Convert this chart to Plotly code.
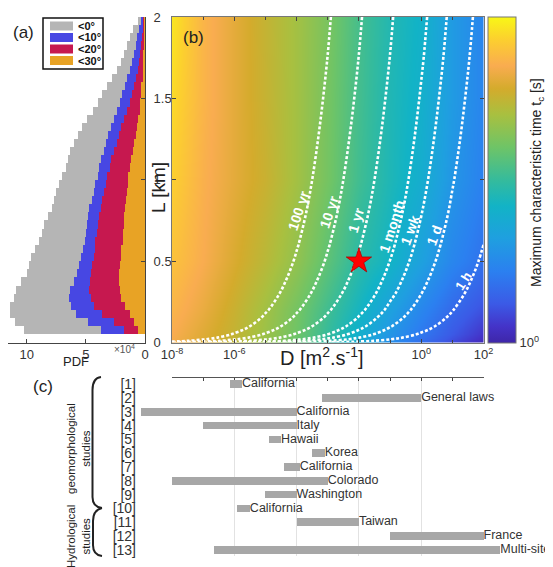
import plotly.graph_objects as go

# The page body adds an 8 px margin, so the figure is 8 px smaller than the window
# and every position below is given in window pixels.
OFF = 8
WIN_W, WIN_H = 553, 567
W, H = WIN_W - OFF, WIN_H - OFF
FONT = "Arial, Liberation Sans, sans-serif"


def X(p):
    return (p - OFF) / W


def Y(p):
    return 1 - (p - OFF) / H


# ---------------- Panel (a): PDF of hillslope length by slope class ----------------
L_bin_km = [0.025, 0.075, 0.125, 0.175, 0.225, 0.275, 0.325, 0.375, 0.425, 0.475,
            0.525, 0.575, 0.625, 0.675, 0.725, 0.775, 0.825, 0.875, 0.925, 0.975,
            1.025, 1.075, 1.125, 1.175, 1.225, 1.275, 1.325, 1.375, 1.425, 1.475,
            1.525, 1.575, 1.625, 1.675, 1.725, 1.775, 1.825, 1.875, 1.925, 1.975]
pdf_lt0 = [0, 10.2, 11.0, 11.4, 11.4, 11.1, 10.9, 10.5, 10.0, 9.8,
           9.6, 9.3, 9.0, 8.7, 8.5, 8.2, 7.9, 7.7, 7.5, 7.3,
           7.0, 6.7, 6.5, 6.3, 6.0, 5.7, 5.3, 4.9, 4.4, 4.0,
           3.6, 3.2, 2.75, 2.4, 2.0, 1.75, 1.5, 1.3, 1.0, 0.6]
pdf_lt10 = [0, 3.75, 4.8, 5.8, 6.25, 6.4, 6.3, 6.0, 5.75, 5.6,
            5.4, 5.25, 5.1, 5.0, 4.9, 4.8, 4.7, 4.5, 4.35, 4.2,
            4.0, 3.85, 3.7, 3.5, 3.3, 3.1, 2.85, 2.6, 2.4, 2.15,
            1.95, 1.7, 1.5, 1.3, 1.1, 0.95, 0.8, 0.65, 0.5, 0.3]
pdf_lt20 = [0, 1.8, 2.6, 3.6, 4.3, 4.6, 4.7, 4.65, 4.55, 4.45,
            4.3, 4.25, 4.2, 4.05, 3.95, 3.85, 3.75, 3.6, 3.45, 3.3,
            3.2, 3.0, 2.85, 2.6, 2.4, 2.2, 2.0, 1.75, 1.5, 1.3,
            1.1, 0.95, 0.75, 0.6, 0.5, 0.4, 0.3, 0.25, 0.15, 0.1]
pdf_lt30 = [0, 0.6, 0.9, 1.3, 1.7, 2.0, 2.1, 2.2, 2.2, 2.1,
            2.0, 2.0, 1.9, 1.85, 1.8, 1.75, 1.7, 1.6, 1.5, 1.45,
            1.4, 1.3, 1.2, 1.05, 0.9, 0.8, 0.7, 0.6, 0.45, 0.4,
            0.35, 0.3, 0.2, 0.15, 0.12, 0.1, 0.08, 0.05, 0.03, 0.02]
slope_names = ["<0°", "<10°", "<20°", "<30°"]
slope_colors = ["#b5b5b5", "#4747e3", "#c6184f", "#e8a325"]
pdf_series = [pdf_lt0, pdf_lt10, pdf_lt20, pdf_lt30]

# ---------------- Panel (b) ----------------
D_exp = [-8, -7, -6, -5, -4, -3, -2, -1, 0, 1, 2]

# colour field (log10 t_c as shown by the colours), rows = L
L_colour_km = [0.0, 0.05, 0.2, 0.5, 1.0, 1.5, 2.0]
log_tc_colour = [
    [12.6, 11.85, 11.1, 10.05, 8.7, 7.2, 5.55, 3.9, 2.55, 1.35, 0.3],
    [12.75, 12.0, 11.25, 10.2, 9.0, 7.5, 6.0, 4.35, 3.0, 1.8, 0.75],
    [13.05, 12.3, 11.4, 10.35, 9.15, 7.8, 6.45, 4.95, 3.6, 2.4, 1.5],
    [13.5, 12.75, 11.85, 10.95, 9.9, 8.55, 7.2, 6.3, 4.95, 3.6, 2.7],
    [13.95, 12.9, 12.15, 11.4, 10.35, 9.15, 7.8, 6.75, 5.85, 4.35, 3.3],
    [14.25, 13.05, 12.15, 11.3, 10.35, 9.2, 7.9, 6.8, 6.05, 4.6, 3.5],
    [14.55, 13.05, 12.15, 11.25, 10.35, 9.3, 7.95, 6.9, 6.2, 4.6, 3.5],
]

# contour field t_c = L^2/D : log10 t_c at D = 1 m2/s for each L row
L_grid_km = [0.002, 0.005, 0.01, 0.02, 0.03, 0.05, 0.075, 0.1, 0.15, 0.2,
             0.3, 0.4, 0.5, 0.6, 0.8, 1.0, 1.25, 1.5, 1.75, 2.0]
log_tc_at_D1 = [0.60, 1.40, 2.00, 2.60, 2.95, 3.40, 3.75, 4.00, 4.35, 4.60,
                4.95, 5.20, 5.40, 5.56, 5.81, 6.00, 6.19, 6.35, 6.49, 6.60]
Z_tc = [[r - d for d in D_exp] for r in log_tc_at_D1]

contour_names = ["100 yr", "10 yr", "1 yr", "1 month", "1 wk", "1 d", "1 h"]
contour_log_tc = [9.50, 8.50, 7.50, 6.41, 5.78, 4.94, 3.56]
label_logD = [-3.95, -2.95, -2.08, -0.95, -0.35, 0.42, 1.37]
label_L = [0.81, 0.80, 0.75, 0.71, 0.69, 0.66, 0.38]
label_angle = [-72, -72, -74, -72, -70, -70, -58]
label_size = [14, 14, 14, 14, 14, 14, 13]

star_logD = [-2.0]
star_L = [0.5]

cscale = [
    [0.00, "#3e26a8"], [0.05, "#4433c8"], [0.12, "#3b5ae6"], [0.22, "#2b80f0"],
    [0.32, "#1f9fe0"], [0.42, "#12b3c6"], [0.50, "#35bb9c"], [0.60, "#6ec467"],
    [0.70, "#a8c040"], [0.78, "#d4ab2c"], [0.85, "#f9ac50"], [0.93, "#fccf2f"],
    [1.00, "#f8f716"],
]

# ---------------- Panel (c): D ranges in literature ----------------
ref_ids = [1, 2, 3, 4, 5, 6, 7, 8, 9, 10, 11, 12, 13]
ref_labels = ["[1]", "[2]", "[3]", "[4]", "[5]", "[6]", "[7]", "[8]", "[9]", "[10]",
              "[11]", "[12]", "[13]"]
logD_min = [-6.15, -3.2, -9.0, -7.0, -4.9, -3.5, -4.4, -8.0, -5.0, -5.9, -4.0, -1.0, -6.65]
logD_max = [-5.75, 0.0, -4.0, -4.0, -4.5, -3.1, -3.9, -3.0, -4.0, -5.5, -2.0, 2.0, 2.54]
sites = ["California", "General laws", "California", "Italy", "Hawaii", "Korea",
         "California", "Colorado", "Washington", "California", "Taiwan", "France",
         "Multi-site"]

fig = go.Figure()

for name, col, vals in zip(slope_names, slope_colors, pdf_series):
    fig.add_trace(go.Bar(x=vals, y=L_bin_km, orientation="h", width=0.05,
                         marker=dict(color=col, line=dict(width=0)), name=name,
                         showlegend=False, xaxis="x", yaxis="y", hoverinfo="skip"))

fig.add_trace(go.Heatmap(x=D_exp, y=L_colour_km, z=log_tc_colour, zmin=0, zmax=15,
                         zsmooth="best", colorscale=cscale, xaxis="x2", yaxis="y2",
                         hoverinfo="skip",
                         colorbar=dict(x=X(488), xanchor="left", xpad=0, ypad=0,
                                       y=Y((17 + 342.5) / 2), yanchor="middle",
                                       len=(342.5 - 17) / H, lenmode="fraction",
                                       thickness=28, thicknessmode="pixels",
                                       outlinewidth=1, outlinecolor="#777",
                                       tickvals=[0, 15],
                                       ticktext=["10<sup>0</sup>", "10<sup>15</sup>"],
                                       ticks="inside", ticklen=3,
                                       tickfont=dict(family=FONT, size=13, color="#333"))))
for lv in contour_log_tc:
    fig.add_trace(go.Contour(x=D_exp, y=L_grid_km, z=Z_tc, autocontour=False,
                             contours=dict(start=lv, end=lv, size=1, coloring="none"),
                             line=dict(color="white", width=2.6, dash="3px,2px", smoothing=1),
                             showscale=False, xaxis="x2", yaxis="y2", hoverinfo="skip"))
fig.add_trace(go.Scatter(x=star_logD, y=star_L, mode="markers",
                         marker=dict(symbol="star", size=19, color="#ff0000",
                                     line=dict(color="#b00000", width=0.8)),
                         xaxis="x2", yaxis="y2", showlegend=False, hoverinfo="skip"))

fig.add_trace(go.Scatter(x=[None], y=[None], xaxis="x3", yaxis="y3", showlegend=False))
fig.add_trace(go.Bar(x=[b - a for a, b in zip(logD_min, logD_max)], base=logD_min,
                     y=ref_ids, orientation="h", width=0.55,
                     marker=dict(color="#a7a7a7", line=dict(width=0)),
                     xaxis="x4", yaxis="y4", showlegend=False, hoverinfo="skip"))
fig.add_trace(go.Scatter(x=logD_max, y=ref_ids, mode="text", text=sites,
                         textposition="middle right",
                         textfont=dict(family=FONT, size=12.5, color="#333"),
                         cliponaxis=False, xaxis="x4", yaxis="y4",
                         showlegend=False, hoverinfo="skip"))

yA = [Y(342.5), Y(17)]
yC = [Y(556), Y(378)]
pxdec = (483.5 - 172) / 10.0

axis_font = dict(family=FONT, size=13, color="#333")

fig.update_layout(
    width=W, height=H, margin=dict(l=0, r=0, t=0, b=0, autoexpand=False),
    paper_bgcolor="white", plot_bgcolor="rgba(0,0,0,0)",
    barmode="overlay", bargap=0, showlegend=False,
    font=dict(family=FONT, size=13, color="#222"),
    xaxis=dict(domain=[0, X(145)], range=[11.5 + 1 / 12, 0], anchor="y", automargin=False,
               tickvals=[0, 5, 10], ticktext=["0", "5", "10"], ticks="inside",
               ticklen=4, showline=True, linecolor="#444", linewidth=1,
               showgrid=False, zeroline=False, tickfont=axis_font),
    yaxis=dict(domain=yA, range=[0, 2], anchor="x", side="right", automargin=False,
               tickvals=[0, 0.5, 1, 1.5, 2], ticktext=["0", "0.5", "1", "1.5", "2"],
               ticks="inside", ticklen=4, showline=True, linecolor="#444", linewidth=1,
               showgrid=False, zeroline=False, tickfont=axis_font, ticklabelstandoff=5),
    xaxis2=dict(domain=[X(172), X(483.5)], range=[-8, 2], anchor="y2", automargin=False,
                tickvals=[-8, -6, -4, -2, 0, 2],
                ticktext=["10<sup>-8</sup>", "10<sup>-6</sup>", "", "",
                          "10<sup>0</sup>", "10<sup>2</sup>"],
                ticks="inside", ticklen=4, minor=dict(dtick=1, ticks="inside", ticklen=3),
                showline=True, mirror="ticks", linecolor="#777", linewidth=1,
                showgrid=False, zeroline=False, tickfont=axis_font),
    yaxis2=dict(domain=yA, range=[0, 2], anchor="x2", automargin=False,
                tickvals=[0, 0.5, 1, 1.5, 2],
                showticklabels=False, ticks="inside", ticklen=4, showline=True,
                mirror="ticks", linecolor="#777", linewidth=1, showgrid=False,
                zeroline=False),
    xaxis3=dict(domain=[X(172), X(483.5)], range=[-8, 2], anchor="y3", side="top",
                automargin=False, tick0=-8, dtick=2, ticks="inside", ticklen=3,
                minor=dict(dtick=1, ticks="inside", ticklen=3, showgrid=False),
                showticklabels=False, showline=True, linecolor="#555", linewidth=1,
                showgrid=True, gridcolor="#e2e2e2", gridwidth=1, zeroline=False),
    yaxis3=dict(domain=yC, range=[13.45, 0.55], anchor="x3", showticklabels=False,
                automargin=False, showgrid=False, zeroline=False, showline=False, ticks=""),
    xaxis4=dict(domain=[X(139), 1.0],
                range=[-8 - (172 - 139) / pxdec, -8 + (WIN_W - 172) / pxdec],
                anchor="y4", visible=False, automargin=False),
    yaxis4=dict(domain=yC, range=[13.45, 0.55], anchor="x4", tickvals=ref_ids,
                automargin=False,
                ticktext=ref_labels, ticks="", showgrid=False, zeroline=False,
                showline=False, ticklabelstandoff=2,
                tickfont=dict(family="Liberation Sans Narrow, Arial Narrow, " + FONT,
                              size=14, color="#333")),
)

ann = []


def txt(x, y, s, size=13, angle=0, color="#222", xanchor="center", **kw):
    ann.append(dict(x=X(x), y=Y(y), xref="paper", yref="paper", text=s, showarrow=False,
                    textangle=angle, xanchor=xanchor, yanchor="middle",
                    font=dict(family=FONT, size=size, color=color), **kw))


txt(23, 33, "(a)", 17)
txt(193, 37, "(b)", 17)
txt(43, 386, "(c)", 17)
txt(158, 188, "L [km]", 19, angle=-90)
txt(322, 356, "D [m<sup>2</sup>.s<sup>-1</sup>]", 20)
txt(124, 349, "×10<sup>4</sup>", 10, color="#555")
txt(76, 361, "PDF", 13)
txt(537, 183, "Maximum characteristic time t<sub>c</sub> [s]", 14, angle=-90)
txt(78, 449, "geomorphological<br>studies", 11.5, angle=-90)
txt(78, 537, "Hydrological<br>studies", 11.5, angle=-90)

shapes = [dict(type="rect", xref="paper", yref="paper", x0=X(43), x1=X(103), y0=Y(69),
               y1=Y(18), line=dict(color="#111", width=1.5), fillcolor="white", layer="above")]
leg_rows = [26, 37.5, 49, 60.5]
for name, col, yy in zip(slope_names, slope_colors, leg_rows):
    shapes.append(dict(type="rect", xref="paper", yref="paper", x0=X(50), x1=X(73),
                       y0=Y(yy + 4.5), y1=Y(yy - 4.5), line=dict(width=0), fillcolor=col,
                       layer="above"))
    txt(76, yy, "<b>" + name + "</b>", 11, xanchor="left", color="#111")

for name, lx, ly, ang, sz in zip(contour_names, label_logD, label_L, label_angle, label_size):
    ann.append(dict(x=lx, y=ly, xref="x2", yref="y2", text="<b>" + name + "</b>",
                    showarrow=False, textangle=ang,
                    font=dict(family=FONT, size=sz, color="white")))


def P(x, y):
    return f"{X(x):.5f},{Y(y):.5f}"


brace1 = (f"M{P(101, 377)} Q{P(92.5, 378)} {P(92.5, 390)} L{P(92.5, 497)} "
          f"Q{P(92.5, 507)} {P(102, 508)}")
brace2 = (f"M{P(102, 508)} Q{P(93, 510)} {P(93, 521)} L{P(93, 545)} "
          f"Q{P(93, 555)} {P(102, 556)}")
for pth in (brace1, brace2):
    shapes.append(dict(type="path", path=pth, xref="paper", yref="paper",
                       line=dict(color="#222", width=2)))

fig.update_layout(annotations=ann, shapes=shapes)
fig.write_html("out.html")
